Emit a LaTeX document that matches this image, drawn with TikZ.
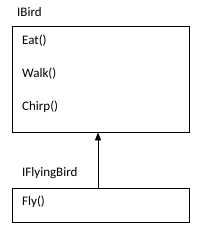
\documentclass[tikz,border=0pt]{standalone}
\usepackage{fontspec}
\setmainfont{Carlito}
\usetikzlibrary{arrows.meta, positioning}

\tikzset{
    iface/.style={draw, line width=0.9pt, minimum width=177pt, inner sep=0pt},
    member/.style={anchor=west, inner sep=0pt, font=\fontsize{13}{15}\selectfont},
}

\begin{document}
\begin{tikzpicture}[>={Triangle[length=8pt, width=6pt]}, x=1pt, y=-1pt]
    \useasboundingbox (0,0) rectangle (202,234);

    \node[iface, minimum height=106pt] (bird) at (100.5,79) {};
    \node[iface, minimum height=34pt] (flying) at (100.5,205) {};

    \node[member] (birdname) at (17,12) {IBird};
    \node[member] (eat) at (22,41) {Eat()};
    \node[member] (walk) at (22,74) {Walk()};
    \node[member] (chirp) at (22,107) {Chirp()};

    \node[member] (flyingname) at (22,173) {IFlyingBird};
    \node[member] (fly) at (22,202) {Fly()};

    \coordinate (base) at (98,0);
    \draw[->, line width=0.9pt] (flying.north -| base) -- (bird.south -| base);
\end{tikzpicture}
\end{document}
